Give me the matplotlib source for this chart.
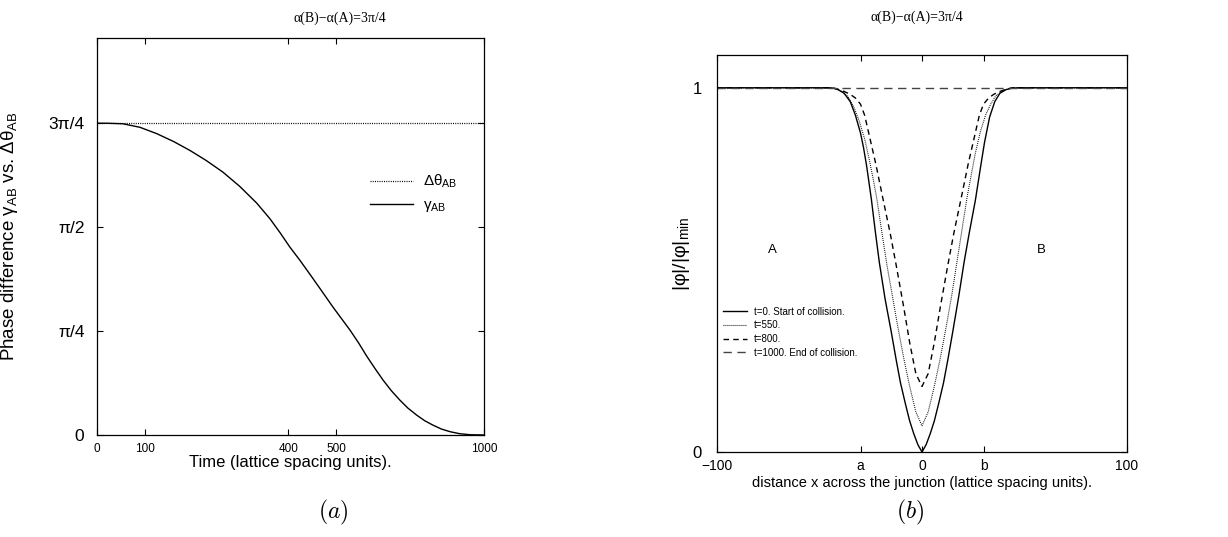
import matplotlib
matplotlib.use("Agg")
import matplotlib.pyplot as plt
import numpy as np

plt.rcParams['font.family'] = ['Liberation Sans', 'DejaVu Sans']
plt.rcParams['mathtext.fontset'] = 'custom'
plt.rcParams['mathtext.rm'] = 'Liberation Sans'
plt.rcParams['mathtext.it'] = 'Liberation Sans:italic'

# ---- panel (a): phase difference vs time ----
t_gamma = [0, 20, 54, 90, 125, 160, 194, 228, 263, 298, 334, 362, 383, 403, 424,
           447, 470, 493, 511, 529, 547, 564, 581, 598, 615, 633, 650, 668, 685,
           702, 720, 738, 758, 780, 809]
gamma_ab = [2.356, 2.356, 2.352, 2.325, 2.277, 2.218, 2.151, 2.075, 1.987, 1.880,
            1.752, 1.632, 1.527, 1.421, 1.321, 1.205, 1.087, 0.968, 0.880, 0.792,
            0.695, 0.595, 0.503, 0.415, 0.336, 0.264, 0.203, 0.151, 0.108, 0.075,
            0.045, 0.025, 0.010, 0.002, 0.0]
t_theta = [0, 809]
dtheta_ab = [3 * np.pi / 4, 3 * np.pi / 4]
xticks_a = [0, 100, 400, 500, 809]
xtick_labels_a = ['0', '100', '400', '500', '1000']
yticks_a = [0, np.pi / 4, np.pi / 2, 3 * np.pi / 4]
ytick_labels_a = ['0', 'π/4', 'π/2', '3π/4']

# ---- panel (b): |phi| profiles across the junction ----
x_t0 = [-100, -46, -43, -41, -38, -35, -32.5, -30, -28.5, -27, -24.7, -22.7, -20.8,
        -18, -15, -12.5, -10.5, -8, -6, -4, -2, 0,
        2, 4, 6, 8, 10.5, 12.5, 15, 18, 20.5, 23, 26, 28.5, 30.5, 33, 35.5, 38, 41,
        44, 47, 100]
y_t0 = [1, 1, 0.999, 0.995, 0.985, 0.962, 0.925, 0.876, 0.835, 0.785, 0.694, 0.602,
        0.52, 0.42, 0.33, 0.25, 0.19, 0.13, 0.085, 0.05, 0.02, 0.0,
        0.02, 0.05, 0.085, 0.13, 0.19, 0.25, 0.33, 0.43, 0.52, 0.60, 0.69, 0.78,
        0.85, 0.92, 0.962, 0.985, 0.995, 0.999, 1, 1]
x_t550 = [-100, -45, -42, -39, -36, -33.5, -31, -28, -26, -24, -22, -19.5, -17, -14.5,
          -12, -9, -6, -3, 0,
          3, 6, 9, 12, 14.5, 17, 19.5, 22, 24, 26, 28.5, 31, 33.5, 36, 39, 42, 45, 100]
y_t550 = [1, 1, 0.997, 0.99, 0.975, 0.95, 0.915, 0.86, 0.81, 0.755, 0.694, 0.60, 0.51,
          0.43, 0.35, 0.26, 0.18, 0.11, 0.072,
          0.11, 0.18, 0.26, 0.35, 0.43, 0.52, 0.61, 0.70, 0.76, 0.82, 0.88, 0.925,
          0.955, 0.978, 0.99, 0.997, 1, 1]
x_t800 = [-100, -44, -41, -38, -35, -32.5, -30, -28, -26, -22.5, -19, -15.5, -12.5, -9,
          -6, -3, 0,
          3, 6, 9, 12.5, 15.5, 19, 22.5, 26, 28, 30, 32.5, 35, 38, 41, 44, 100]
y_t800 = [1, 1, 0.996, 0.99, 0.982, 0.972, 0.955, 0.925, 0.876, 0.79, 0.694, 0.60,
          0.51, 0.40, 0.30, 0.215, 0.18,
          0.215, 0.30, 0.40, 0.51, 0.60, 0.694, 0.79, 0.876, 0.925, 0.955, 0.972,
          0.982, 0.99, 0.996, 1, 1]
x_t1000 = [-100, 100]
y_t1000 = [1, 1]
xticks_b = [-100, -30, 0, 30, 100]
xtick_labels_b = ['\u2212100', 'a', '0', 'b', '100']

fig = plt.figure(figsize=(12.28, 5.37), dpi=100)

# ---------- (a) ----------
ax1 = fig.add_axes([97 / 1228, 102 / 537, 387 / 1228, 397 / 537])
ax1.plot(t_theta, dtheta_ab, color='black', lw=0.9, linestyle=(0, (0.8, 1.0)),
         label='Δθ$_{\\rm AB}$')
ax1.plot(t_gamma, gamma_ab, color='black', lw=1.0, label='γ$_{\\rm AB}$')
ax1.set_xlim(0, 809)
ax1.set_ylim(0, 3.0)
ax1.set_xticks(xticks_a)
ax1.set_xticklabels(xtick_labels_a, fontsize=8.5)
ax1.set_yticks(yticks_a)
ax1.set_yticklabels(ytick_labels_a, fontsize=12.5)
ax1.tick_params(direction='in', length=4, width=0.8, top=True, right=True)
ax1.tick_params(axis='x', pad=6)
ax1.tick_params(axis='y', pad=9)
ax1.set_xlabel('Time (lattice spacing units).', fontsize=12, labelpad=0)
ax1.set_ylabel('Phase difference γ$_{\\rm AB}$ vs. Δθ$_{\\rm AB}$', fontsize=13.5)
ax1.yaxis.set_label_coords(-0.2, 0.5)
ax1.text(0.628, 1.05, 'α(B)−α(A)=3π/4', transform=ax1.transAxes, ha='center',
         va='center', fontsize=10, family='Liberation Serif')
ax1.legend(loc='upper left', bbox_to_anchor=(0.705, 0.66), frameon=False,
           fontsize=11, handlelength=2.8, handletextpad=0.7, labelspacing=0.5,
           borderpad=0, borderaxespad=0)
for s in ax1.spines.values():
    s.set_linewidth(0.9)

# ---------- (b) ----------
ax2 = fig.add_axes([717 / 1228, 85 / 537, 410 / 1228, 397 / 537])
ax2.plot(x_t0, y_t0, color='black', lw=1.0, label='t=0. Start of collision.')
ax2.plot(x_t550, y_t550, color='black', lw=0.8, linestyle=(0, (0.8, 1.0)),
         label='t=550.')
ax2.plot(x_t800, y_t800, color='black', lw=1.0, linestyle=(0, (4, 3)),
         label='t=800.')
ax2.plot(x_t1000, y_t1000, color='#444444', lw=1.0, linestyle=(0, (6, 4)),
         label='t=1000. End of collision.')
ax2.set_xlim(-100, 100)
ax2.set_ylim(0, 1.09)
ax2.set_xticks(xticks_b)
ax2.set_xticklabels(xtick_labels_b, fontsize=10)
ax2.set_yticks([0, 1])
ax2.set_yticklabels(['0', '1'], fontsize=12)
ax2.tick_params(direction='in', length=4, width=0.8, top=True, right=True)
ax2.tick_params(axis='x', pad=5)
ax2.tick_params(axis='y', pad=11)
ax2.set_xlabel('distance x across the junction (lattice spacing units).',
               fontsize=10.5, labelpad=2)
ax2.set_ylabel('|φ|/|φ|$_{\\rm min}$', fontsize=14)
ax2.yaxis.set_label_coords(-0.062, 0.5)
ax2.text(0.488, 1.096, 'α(B)−α(A)=3π/4', transform=ax2.transAxes, ha='center',
         va='center', fontsize=10, family='Liberation Serif')
ax2.text(-73, 0.555, 'A', ha='center', va='center', fontsize=9.5)
ax2.text(58, 0.555, 'B', ha='center', va='center', fontsize=9.5)
ax2.legend(loc='upper left', bbox_to_anchor=(0.015, 0.366), frameon=False,
           fontsize=7, handlelength=2.5, handletextpad=0.65, labelspacing=0.38,
           borderpad=0, borderaxespad=0)
for s in ax2.spines.values():
    s.set_linewidth(0.9)

fig.text(333 / 1228, 1 - 512 / 537, '$(a)$', ha='center', va='center',
         fontsize=17, math_fontfamily='cm')
fig.text(910 / 1228, 1 - 512 / 537, '$(b)$', ha='center', va='center',
         fontsize=17, math_fontfamily='cm')

fig.savefig('out.png', dpi=100)
